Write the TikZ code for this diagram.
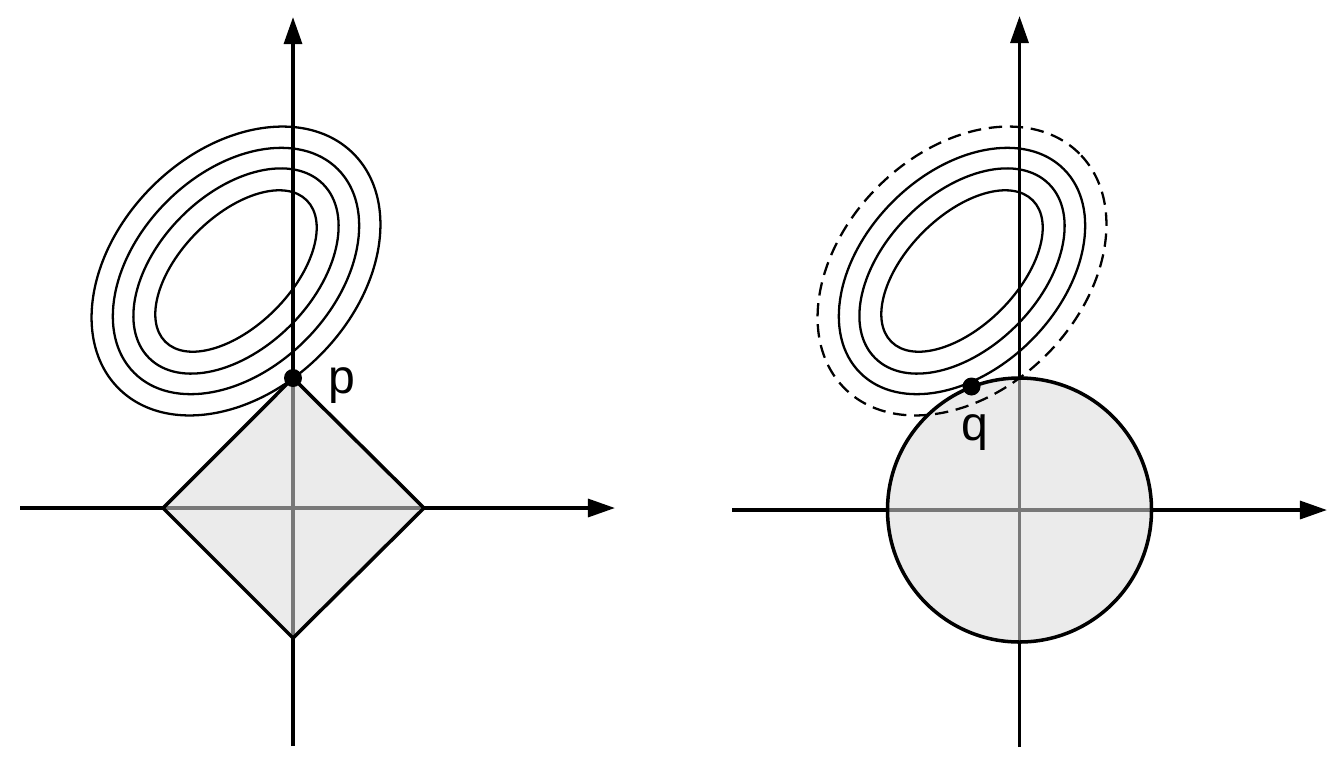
\documentclass[tikz,border=0pt]{standalone}
\usepackage{fontspec}
\setmainfont{Liberation Sans}
\usetikzlibrary{arrows.meta}
\begin{document}
\begin{tikzpicture}[x=1cm,y=1cm,
  axis/.style={line width=1pt, -{Triangle[length=7.7pt,width=5.1pt]}},
  axisin/.style={line width=1pt, draw=black!53},
  region/.style={fill=black!8},
  outline/.style={draw=black, line width=1pt, line join=miter},
  contour/.style={line width=0.65pt},
  dashcontour/.style={line width=0.65pt, dash pattern=on 3.8pt off 2.2pt},
  dotnode/.style={circle, fill=black, inner sep=0pt, minimum size=0.18cm},
  lbl/.style={font=\fontsize{13.7}{16}\selectfont, anchor=base, inner sep=0pt}]
\useasboundingbox (0,0) rectangle (13.34,7.58);

% ---------- left panel ----------
\coordinate (lo) at (2.93,2.50);
\coordinate (lyb) at (2.93,0.12);
\coordinate (lyt) at (2.93,7.41);
\coordinate (lxl) at (0.20,2.50);
\coordinate (lxr) at (6.15,2.50);
\draw[axis] (lyb) -- (lyt);
\draw[axis] (lxl) -- (lxr);

\coordinate (dt) at (2.93,3.80);
\coordinate (dr) at (4.24,2.50);
\coordinate (db) at (2.93,1.20);
\coordinate (dl) at (1.63,2.50);
\fill[region] (dt) -- (dr) -- (db) -- (dl) -- cycle;
\draw[axisin] (dt) -- (db);
\draw[axisin] (dl) -- (dr);
\draw[outline] (dt) -- (dr) -- (db) -- (dl) -- cycle;

\coordinate (lc) at (2.36,4.87);
\begin{scope}[rotate around={45:(lc)}]
  \draw[contour] (lc) ellipse [x radius=1.00, y radius=0.55];
  \draw[contour] (lc) ellipse [x radius=1.23, y radius=0.77];
  \draw[contour] (lc) ellipse [x radius=1.44, y radius=0.98];
  \draw[contour] (lc) ellipse [x radius=1.66, y radius=1.19];
\end{scope}

\node[dotnode] (p) at (dt) {};
\node[lbl] (plabel) at (3.42,3.65) {p};

% ---------- right panel ----------
\coordinate (ro) at (10.195,2.48);
\coordinate (ryb) at (10.195,0.11);
\coordinate (ryt) at (10.195,7.42);
\coordinate (rxl) at (7.32,2.48);
\coordinate (rxr) at (13.27,2.48);
\draw[axis] (ryb) -- (ryt);
\draw[axis] (rxl) -- (rxr);

\fill[region] (ro) circle [radius=1.32];
\draw[axisin] (10.195,1.16) -- (10.195,3.80);
\draw[axisin] (8.875,2.48) -- (11.515,2.48);
\draw[outline] (ro) circle [radius=1.32];

\coordinate (rc) at (9.62,4.87);
\begin{scope}[rotate around={45:(rc)}]
  \draw[contour] (rc) ellipse [x radius=1.00, y radius=0.55];
  \draw[contour] (rc) ellipse [x radius=1.23, y radius=0.77];
  \draw[contour] (rc) ellipse [x radius=1.44, y radius=0.98];
  \draw[dashcontour] (rc) ellipse [x radius=1.66, y radius=1.19];
\end{scope}

\node[dotnode] (q) at (9.715,3.715) {};
\node[lbl] (qlabel) at (9.75,3.18) {q};
\end{tikzpicture}
\end{document}
